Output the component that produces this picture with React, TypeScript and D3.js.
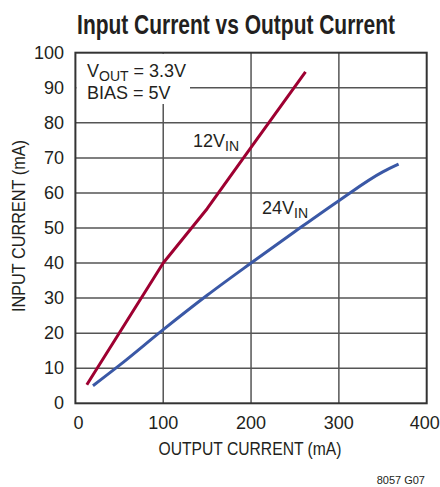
import React, { useLayoutEffect, useRef, useState } from "react";
import * as d3 from "d3";

const xTicks = [0, 100, 200, 300, 400];
const yTicks = [0, 10, 20, 30, 40, 50, 60, 70, 80, 90, 100];
const out12 = [13, 100, 150, 200, 262];
const in12 = [5.3, 40, 55.5, 73, 94.5];
const out24 = [20, 50, 100, 150, 200, 250, 300, 350, 368];
const in24 = [5, 10.8, 21, 30.8, 40, 49, 57.8, 66, 68.2];

const W = 440, H = 487;
const L = 75.4, R = 426.7, T = 52.7, B = 403.3;
const FONT = "'Liberation Sans', Arial, sans-serif";

export default function App() {
  const titleRef = useRef<SVGTextElement>(null);
  const [sx, setSx] = useState(0.75);
  useLayoutEffect(() => {
    if (titleRef.current) {
      const len = titleRef.current.getComputedTextLength();
      if (len > 0) setSx(318 / len);
    }
  }, []);
  const x = d3.scaleLinear().domain([0, 400]).range([L, R]);
  const y = d3.scaleLinear().domain([0, 100]).range([B, T]);
  const line12 = d3.line<[number, number]>().x(d => x(d[0])).y(d => y(d[1])).curve(d3.curveLinear);
  const line24 = d3.line<[number, number]>().x(d => x(d[0])).y(d => y(d[1])).curve(d3.curveMonotoneX);
  const d12 = line12(out12.map((v, i) => [v, in12[i]] as [number, number])) || "";
  const d24 = line24(out24.map((v, i) => [v, in24[i]] as [number, number])) || "";
  const grid = "#555";
  return (
    <svg width={W} height={H} style={{ position: "absolute", left: 0, top: 0, background: "#fff" }} fontFamily={FONT}>
      <rect width={W} height={H} fill="#fff" />
      <text ref={titleRef} transform={`translate(236,34) scale(${sx},1)`} textAnchor="middle" fontSize={27} fontWeight="bold" fill="#231f20">Input Current vs Output Current</text>
      {xTicks.slice(1, -1).map(t => (
        <line key={"gx" + t} x1={x(t)} x2={x(t)} y1={T} y2={B} stroke={grid} strokeWidth={1.5} />
      ))}
      {yTicks.slice(1, -1).map(t => (
        <line key={"gy" + t} x1={L} x2={R} y1={y(t)} y2={y(t)} stroke={grid} strokeWidth={1.5} />
      ))}
      <rect x={L + 1} y={T + 1} width={190 - L - 1} height={104 - T - 1} fill="#fff" />
      <rect x={L} y={T} width={R - L} height={B - T} fill="none" stroke="#333" strokeWidth={2} />
      <text x={87} y={77} fontSize={18} fill="#231f20">V<tspan fontSize={14} dy={4}>OUT</tspan><tspan dy={-4}> = 3.3V</tspan></text>
      <text x={87} y={99} fontSize={18} fill="#231f20">BIAS = 5V</text>
      <path d={d12} fill="none" stroke="#9e0031" strokeWidth={3} strokeLinejoin="round" />
      <path d={d24} fill="none" stroke="#3a58a6" strokeWidth={3} />
      <text x={193} y={147} fontSize={18} fill="#231f20">12V<tspan fontSize={14} dy={4}>IN</tspan></text>
      <text x={262} y={214} fontSize={18} fill="#231f20">24V<tspan fontSize={14} dy={4}>IN</tspan></text>
      {yTicks.map(t => (
        <text key={"yt" + t} x={64} y={y(t) + 6} textAnchor="end" fontSize={18} fill="#231f20">{t}</text>
      ))}
      {xTicks.map(t => (
        <text key={"xt" + t} x={x(t) + (t === 0 ? 3 : t === 400 ? -2 : 0)} y={429} textAnchor="middle" fontSize={18} fill="#231f20">{t}</text>
      ))}
      <text x={250} y={455} textAnchor="middle" fontSize={18} fill="#231f20" textLength={183} lengthAdjust="spacingAndGlyphs">OUTPUT CURRENT (mA)</text>
      <text transform={`translate(25,226) rotate(-90)`} textAnchor="middle" fontSize={18} fill="#231f20" textLength={172} lengthAdjust="spacingAndGlyphs">INPUT CURRENT (mA)</text>
      <text x={425} y={484} textAnchor="end" fontSize={11} fill="#231f20">8057 G07</text>
    </svg>
  );
}
